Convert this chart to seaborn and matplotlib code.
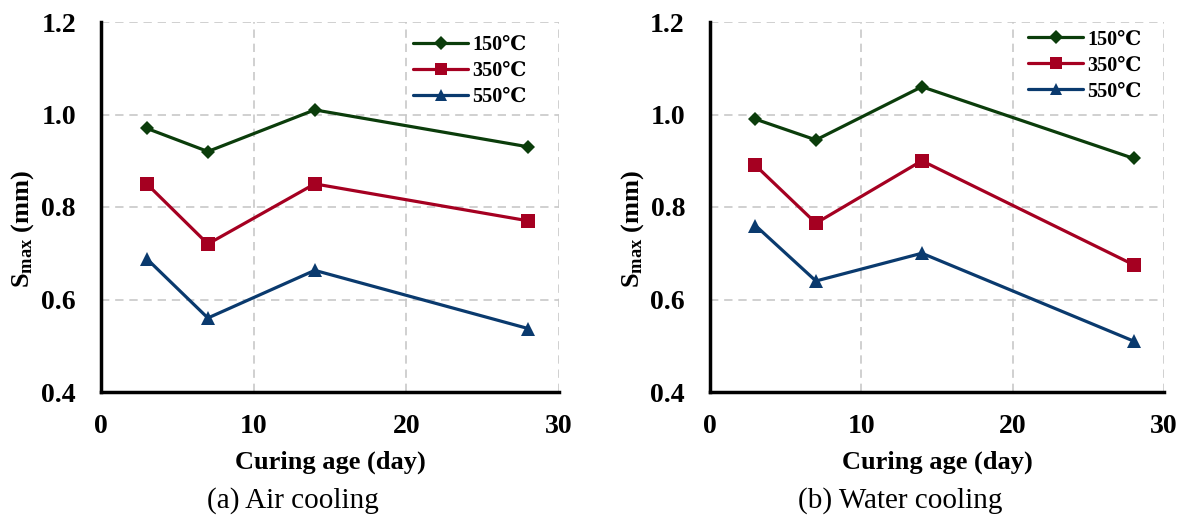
import numpy as np
import pandas as pd
import matplotlib
matplotlib.use("Agg")
import matplotlib.pyplot as plt
import seaborn as sns

# Curing ages (days)
ages = [3, 7, 14, 28]
temps = ["150℃", "350℃", "550℃"]

# Maximum crack width S_max (mm) for each exposure temperature
air_150 = [0.97, 0.92, 1.01, 0.93]
air_350 = [0.85, 0.72, 0.85, 0.77]
air_550 = [0.688, 0.56, 0.663, 0.537]

water_150 = [0.99, 0.945, 1.06, 0.905]
water_350 = [0.89, 0.765, 0.90, 0.675]
water_550 = [0.76, 0.64, 0.70, 0.51]

panel_titles = ["(a) Air cooling", "(b) Water cooling"]
x_ticks = [0, 10, 20, 30]
y_ticks = [0.4, 0.6, 0.8, 1.0, 1.2]


def long_frame(series):
    rows = []
    for t, vals in zip(temps, series):
        for a, v in zip(ages, vals):
            rows.append({"age": a, "smax": v, "temp": t})
    return pd.DataFrame(rows)


frames = [long_frame([air_150, air_350, air_550]),
          long_frame([water_150, water_350, water_550])]

sns.set_theme(style="white")
plt.rcParams["font.family"] = ["Liberation Serif", "DejaVu Serif"]
plt.rcParams["mathtext.fontset"] = "custom"
plt.rcParams["mathtext.rm"] = "Liberation Serif:bold"
plt.rcParams["mathtext.bf"] = "Liberation Serif:bold"
plt.rcParams["mathtext.it"] = "Liberation Serif:bold"
for key in ["text.color", "axes.labelcolor", "xtick.color", "ytick.color"]:
    plt.rcParams[key] = "black"

palette = {"150℃": "#0b3d0b", "350℃": "#a50021", "550℃": "#0a3a6e"}
markers = {"150℃": "D", "350℃": "s", "550℃": "^"}
msizes = {"150℃": 7.5, "350℃": 10.5, "550℃": 9.5}
legend_msizes = {"150℃": 7, "350℃": 9, "550℃": 8.5}

fig = plt.figure(figsize=(11.84, 5.22), dpi=100)
lefts = [101 / 1184, 710 / 1184]
widths = [458 / 1184, 454 / 1184]
bottom = 1 - 392 / 522
height = 370 / 522
legend_anchors = [(0.969, 1.015), (0.991, 1.029)]

for i, (df, title) in enumerate(zip(frames, panel_titles)):
    ax = fig.add_axes([lefts[i], bottom, widths[i], height])
    sns.lineplot(data=df, x="age", y="smax", hue="temp", style="temp",
                 palette=palette, markers=markers, dashes=False,
                 linewidth=2.3, markeredgewidth=0, ax=ax)
    for line, t in zip(ax.get_lines(), temps):
        line.set_markersize(msizes[t])

    ax.set_xlim(0, 30)
    ax.set_ylim(0.4, 1.2)
    ax.set_xticks(x_ticks)
    ax.set_yticks(y_ticks)
    ax.set_xticklabels([str(v) for v in x_ticks], fontweight="bold", fontsize=20)
    ax.set_yticklabels([f"{v:.1f}" for v in y_ticks], fontweight="bold", fontsize=20)
    ax.tick_params(direction="in", length=5, width=2, colors="black")
    ax.tick_params(axis="y", pad=18)
    ax.tick_params(axis="x", pad=16)

    ax.grid(True, color="#c8c8c8", linestyle=(0, (5, 3.5)), linewidth=1.2)
    ax.set_axisbelow(True)
    for side in ["top", "right"]:
        ax.spines[side].set_visible(False)
    for side in ["left", "bottom"]:
        ax.spines[side].set_color("black")
        ax.spines[side].set_linewidth(2.5)

    ax.set_xlabel("Curing age (day)", fontweight="bold", fontsize=19, labelpad=8)
    ax.set_ylabel(r"$\mathregular{S_{max}}$ (mm)", fontweight="bold", fontsize=19)
    ax.yaxis.set_label_coords(-0.142, 0.44)

    handles, labels = ax.get_legend_handles_labels()
    leg = ax.legend(handles, labels, loc="upper right", frameon=False,
                    prop={"weight": "bold", "size": 14.5}, handlelength=2.75,
                    handletextpad=0.2, labelspacing=0.3,
                    bbox_to_anchor=legend_anchors[i])
    for h, t in zip(leg.legend_handles, labels):
        h.set_markersize(legend_msizes[t])
        h.set_linewidth(2.3)

    fig.text(lefts[i] + widths[i] / 2 - 37 / 1184, 1 - 501 / 522,
             title, ha="center", va="center", fontsize=21)

fig.savefig("out.png", dpi=100)
